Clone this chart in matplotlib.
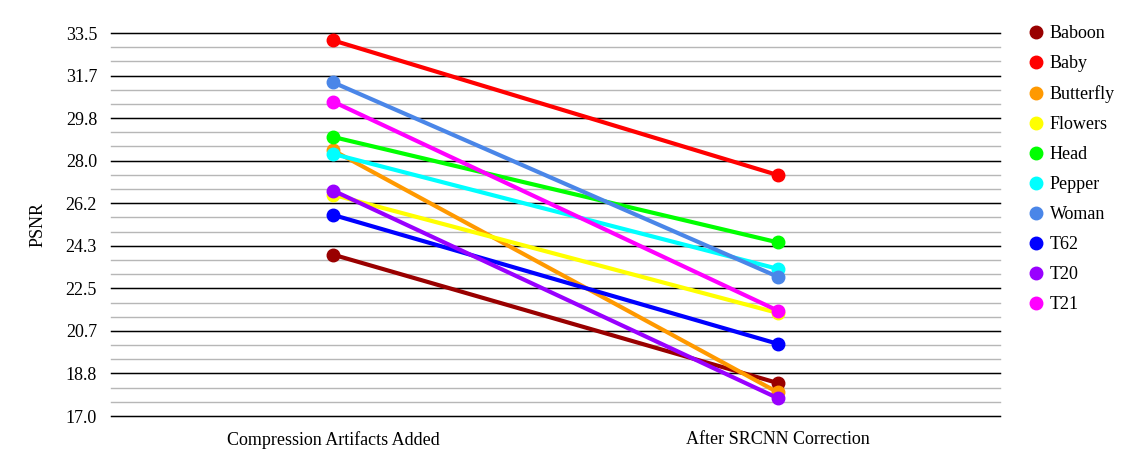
import matplotlib.pyplot as plt
import numpy as np

plt.rcParams['font.family'] = ['Liberation Serif', 'DejaVu Serif']

categories = ['Compression Artifacts Added', 'After SRCNN Correction']
names = ['Baboon', 'Baby', 'Butterfly', 'Flowers', 'Head',
         'Pepper', 'Woman', 'T62', 'T20', 'T21']
before = [23.95, 33.18, 28.44, 26.53, 29.02, 28.29, 31.37, 25.66, 26.71, 30.54]
after = [18.42, 27.38, 18.02, 21.44, 24.48, 23.34, 23.00, 20.11, 17.77, 21.54]
colors = ['#990000', '#ff0000', '#ff9900', '#ffff00', '#00ff00',
          '#00ffff', '#4a86e8', '#0000ff', '#9900ff', '#ff00ff']

y_min, y_max = 17.0, 33.5
y_ticks = np.linspace(y_min, y_max, 10)
minor_ticks = np.linspace(y_min, y_max, 28)

fig = plt.figure(figsize=(11.37, 4.69), dpi=100)
ax = fig.add_axes([111 / 1137, 1 - 416 / 469, 889 / 1137, 383 / 469])

# сітка: сірі проміжні лінії та чорні основні
for t in minor_ticks:
    ax.axhline(t, color='#b7b7b7', lw=1, zorder=0, clip_on=False)
for t in y_ticks:
    ax.axhline(t, color='black', lw=1, zorder=1, clip_on=False)

x = np.arange(len(categories))
for i, name in enumerate(names):
    ax.plot(x, [before[i], after[i]], color=colors[i], lw=3, marker='o',
            markersize=9, label=name, zorder=3 + i, solid_capstyle='round')

ax.set_xlim(-0.5, 1.5)
ax.set_ylim(y_min, y_max)
ax.set_yticks(y_ticks)
ax.set_yticklabels([f'{t:.1f}' for t in y_ticks], fontsize=13)
ax.set_xticks(x)
ax.set_xticklabels(categories, fontsize=13)
ax.tick_params(length=0, pad=10)
ax.tick_params(axis='x', pad=11)
for s in ax.spines.values():
    s.set_visible(False)
ax.set_ylabel('PSNR', fontsize=13, labelpad=14)

leg_handles = [plt.Line2D([], [], color=c, marker='o', lw=0, markersize=9) for c in colors]
fig.legend(leg_handles, names, loc='upper left', bbox_to_anchor=(1018 / 1137, 1 - 16 / 469),
           frameon=False, fontsize=13, handlelength=1, handletextpad=0.25,
           labelspacing=0.72, borderpad=0)

fig.savefig('out.png', dpi=100)
